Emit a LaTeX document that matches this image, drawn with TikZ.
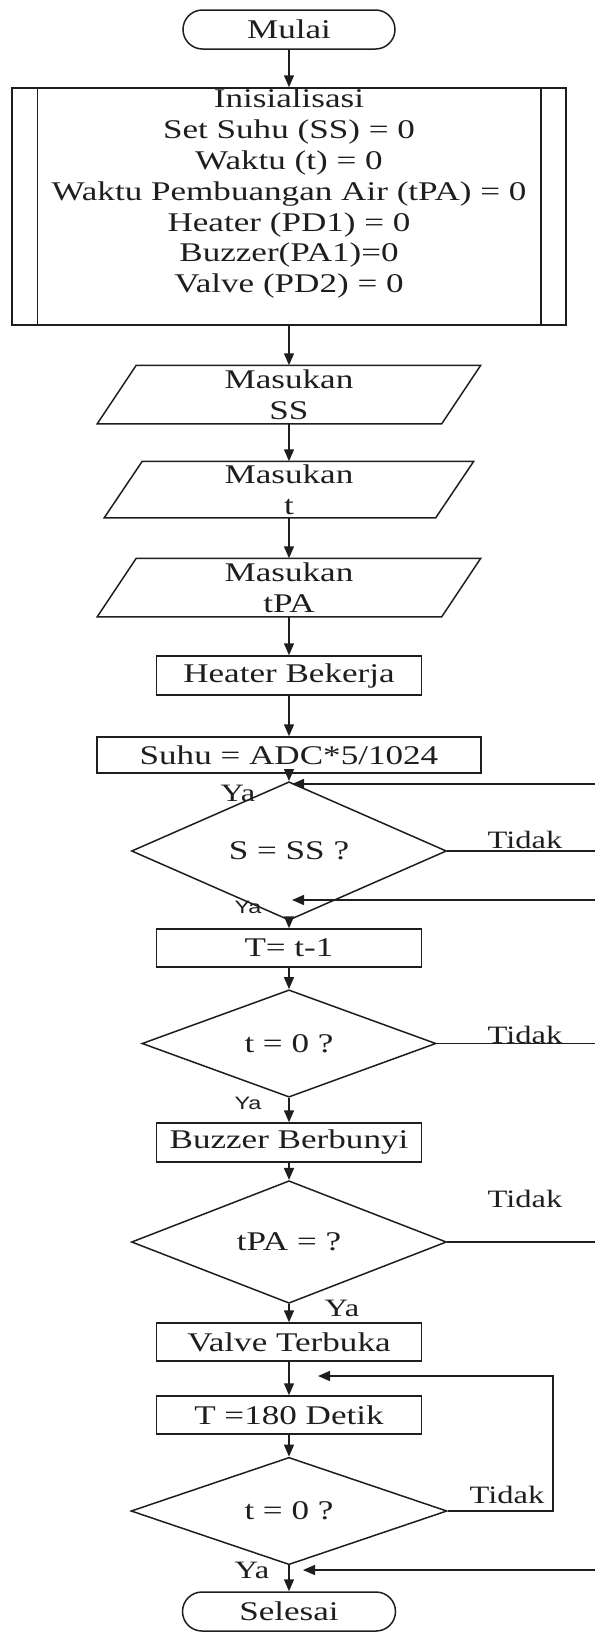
\documentclass[tikz,border=0pt]{standalone}
\usepackage{fontspec}
\setmainfont{Liberation Serif}[FakeStretch=1.3]
\newfontfamily\sanswide{Liberation Sans}[FakeStretch=1.3]
\usetikzlibrary{arrows.meta,shapes.geometric}
\definecolor{ink}{HTML}{1E1E1E}
\begin{document}
\begin{tikzpicture}[x=1pt,y=-1pt, line width=1.5pt, color=ink,
  every node/.style={font=\fontsize{27}{30.8}\selectfont, inner sep=0pt},
  proc/.style={draw, rectangle, minimum width=265pt, minimum height=38pt},
  term/.style={draw, rectangle, rounded corners=19.5pt, minimum width=212pt, minimum height=39pt},
  dec/.style={draw, diamond, minimum width=315pt, minimum height=77pt},
  iobox/.style={rectangle, minimum width=343pt, minimum height=57pt, align=center},
  flow/.style={-{Triangle[length=12pt,width=10pt]}},
  lbl/.style={font=\fontsize{25}{28}\selectfont},
  lbls/.style={font=\sanswide\fontsize{18}{21}\selectfont}]
\useasboundingbox (0,0) rectangle (595,1634);

% nodes
\node[term] (mulai) at (289,29.5) {Mulai};
\node[draw, minimum width=554pt, minimum height=237pt] (init) at (289,206.5) {};
\draw ([xshift=26pt]init.north west) -- ([xshift=26pt]init.south west);
\draw ([xshift=-26pt]init.north east) -- ([xshift=-26pt]init.south east);
\node[align=center, anchor=north] (inittxt) at (289,88.5) {Inisialisasi\\Set Suhu (SS) = 0\\Waktu (t) = 0\\Waktu Pembuangan Air (tPA) = 0\\Heater (PD1) = 0\\Buzzer(PA1)=0\\Valve (PD2) = 0};

\node[iobox] (ss) at (289,394.5) {Masukan\\SS};
\draw ([xshift=19.5pt]ss.north west) -- ([xshift=19.5pt]ss.north east) -- ([xshift=-19.5pt]ss.south east) -- ([xshift=-19.5pt]ss.south west) -- cycle;
\node[iobox, minimum width=330pt, minimum height=55pt] (mt) at (289,489.5) {Masukan\\t};
\draw ([xshift=19pt]mt.north west) -- ([xshift=19pt]mt.north east) -- ([xshift=-19pt]mt.south east) -- ([xshift=-19pt]mt.south west) -- cycle;
\node[iobox] (tpa) at (289,587.5) {Masukan\\tPA};
\draw ([xshift=19.5pt]tpa.north west) -- ([xshift=19.5pt]tpa.north east) -- ([xshift=-19.5pt]tpa.south east) -- ([xshift=-19.5pt]tpa.south west) -- cycle;

\node[proc, minimum height=39pt] (heater) at (289,675.5) {Heater Bekerja};
\node[proc, minimum width=384pt, minimum height=36pt] (suhu) at (289,755) {Suhu = ADC*5/1024};
\node[dec, minimum height=76pt] (d1) at (289,851) {S = SS ?};
\node[proc] (tt) at (289,948) {T= t-1};
\node[dec, minimum width=294pt, minimum height=79pt] (d2) at (289,1043.5) {t = 0 ?};
\node[proc, minimum height=39pt] (buzzer) at (289,1142.5) {Buzzer Berbunyi};
\node[dec, minimum height=80pt] (d3) at (289,1242) {tPA = ?};
\node[proc] (valve) at (289,1342) {Valve Terbuka};
\node[proc] (t180) at (289,1415) {T =180 Detik};
\node[dec, minimum width=316pt, minimum height=76pt] (d4) at (289,1511) {t = 0 ?};
\node[term, minimum width=213pt] (selesai) at (289,1611.5) {Selesai};

% main flow
\draw[flow] (mulai) -- (init);
\draw[flow] (init) -- (ss.north);
\draw[flow] (ss.south) -- (mt.north);
\draw[flow] (mt.south) -- (tpa.north);
\draw[flow] (tpa.south) -- (heater);
\draw[flow] (heater) -- (suhu);
\draw[flow] (suhu) -- (d1);
\draw[flow] (d1) -- (tt);
\draw[flow] (tt) -- (d2);
\draw[flow] (d2) -- (buzzer);
\draw[flow] (buzzer) -- (d3);
\draw[flow] (d3) -- (valve);
\draw[flow] (valve) -- (t180);
\draw[flow] (t180) -- (d4);
\draw[flow] (d4) -- (selesai);

% side returns from the right edge
\coordinate (r1) at (595,784);
\coordinate (r2) at (595,900);
\coordinate (r4) at (595,1570);
\coordinate (lp) at (553,1376);
\coordinate (e1) at (595,851);
\coordinate (e2) at (595,1043.5);
\coordinate (e3) at (595,1242);
\draw[flow] (r1) -- ([xshift=3pt]suhu.south |- r1);
\draw[flow] (r2) -- ([xshift=3pt]d1.south |- r2);
\draw[flow] (r4) -- ([xshift=14pt]d4.south |- r4);
\draw[flow] (d4.east) -| (lp) -- ([xshift=29pt]valve.south |- lp);
\draw (d1.east) -- (e1);
\draw (d2.east) -- (e2);
\draw (d3.east) -- (e3);

% labels
\node[lbl] (ya1) at (238,793) {Ya};
\node[lbls] (ya2) at (248,907) {Ya};
\node[lbls] (ya3) at (248,1103) {Ya};
\node[lbl] (ya4) at (342,1308) {Ya};
\node[lbl] (ya5) at (252,1570) {Ya};
\node[lbl] (td1) at (525,840) {Tidak};
\node[lbl] (td2) at (525,1035) {Tidak};
\node[lbl] (td3) at (525,1199) {Tidak};
\node[lbl] (td4) at (507,1495) {Tidak};
\end{tikzpicture}
\end{document}
